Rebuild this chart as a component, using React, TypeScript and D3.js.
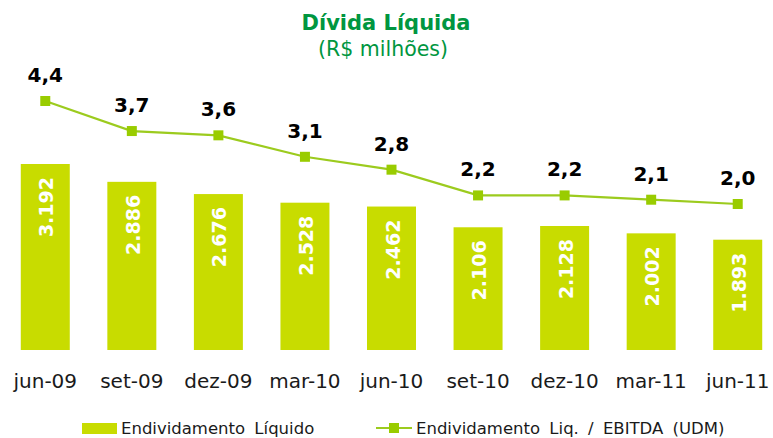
import * as d3 from "d3"

const periods = ["jun-09", "set-09", "dez-09", "mar-10", "jun-10", "set-10", "dez-10", "mar-11", "jun-11"]
const netDebt = [3192, 2886, 2676, 2528, 2462, 2106, 2128, 2002, 1893]
const debtToEbitda = [4.4, 3.7, 3.6, 3.1, 2.8, 2.2, 2.2, 2.1, 2.0]

const W = 773
const H = 438

const fmtDebt = (v: number) => d3.format(",")(v).replace(",", ".")
const fmtRatio = (v: number) => v.toFixed(1).replace(".", ",")

export default function App() {
  const x = d3.scaleBand<string>().domain(periods).range([2, 781]).paddingInner(0.434).paddingOuter(0.217)

  // bars: baseline ~350, 3192 -> top at 164
  const yBar = d3.scaleLinear().domain([0, 3192]).range([350, 164])
  // line: 4,4 -> 101, 2,0 -> 204
  const yLine = d3.scaleLinear().domain([2.0, 4.4]).range([204, 101])

  const cx = (p: string) => (x(p) ?? 0) + x.bandwidth() / 2

  const line = d3
    .line<number>()
    .x((_, i) => cx(periods[i]))
    .y((d) => yLine(d))

  const barColor = "#C8DC00"
  const lineColor = "#9CCB1E"
  const markerColor = "#99CC00"
  const font = "'DejaVu Sans', Verdana, sans-serif"

  return (
    <div style={{ position: "fixed", left: 0, top: 0 }}>
      <svg width={W} height={H} style={{ display: "block", background: "#fff" }}>
        {/* title */}
        <text x={386} y={30} textAnchor="middle" fill="#009640" fontFamily={font} fontWeight="bold" fontSize={21}>
          Dívida Líquida
        </text>
        <text x={383} y={56} textAnchor="middle" fill="#009640" fontFamily={font} fontSize={20.5}>
          (R$ milhões)
        </text>

        {/* bars */}
        {netDebt.map((v, i) => (
          <rect key={periods[i]} x={x(periods[i])} y={yBar(v)} width={x.bandwidth()} height={yBar(0) - yBar(v)} fill={barColor} />
        ))}

        {/* bar labels */}
        {netDebt.map((v, i) => {
          const px = cx(periods[i]) + 8
          const py = yBar(v) + 13
          return (
            <text
              key={"bl" + i}
              transform={`translate(${px},${py}) rotate(-90)`}
              textAnchor="end"
              fill="#fff"
              fontFamily={font}
              fontWeight="bold"
              fontSize={19}
            >
              {fmtDebt(v)}
            </text>
          )
        })}

        {/* ratio line */}
        <path d={line(debtToEbitda) ?? ""} fill="none" stroke={lineColor} strokeWidth={2.2} />
        {debtToEbitda.map((v, i) => (
          <rect key={"m" + i} x={cx(periods[i]) - 5} y={yLine(v) - 5} width={10} height={10} fill={markerColor} />
        ))}
        {debtToEbitda.map((v, i) => (
          <text
            key={"ml" + i}
            x={cx(periods[i])}
            y={yLine(v) - 19}
            textAnchor="middle"
            fill="#000"
            fontFamily={font}
            fontWeight="bold"
            fontSize={20}
          >
            {fmtRatio(v)}
          </text>
        ))}

        {/* x axis labels */}
        {periods.map((p) => (
          <text key={"x" + p} x={cx(p)} y={388} textAnchor="middle" fill="#1a1a1a" fontFamily={font} fontSize={20}>
            {p}
          </text>
        ))}

        {/* legend */}
        <rect x={82} y={423} width={35} height={11} fill={barColor} />
        <text x={121} y={434} fill="#1a1a1a" fontFamily={font} fontSize={16.5} wordSpacing={4}>
          Endividamento Líquido
        </text>
        <line x1={376} x2={412} y1={428} y2={428} stroke={lineColor} strokeWidth={2.2} />
        <rect x={389} y={423} width={10} height={10} fill={markerColor} />
        <text x={416} y={434} fill="#1a1a1a" fontFamily={font} fontSize={16.5} wordSpacing={4}>
          Endividamento Liq. / EBITDA (UDM)
        </text>
      </svg>
    </div>
  )
}
